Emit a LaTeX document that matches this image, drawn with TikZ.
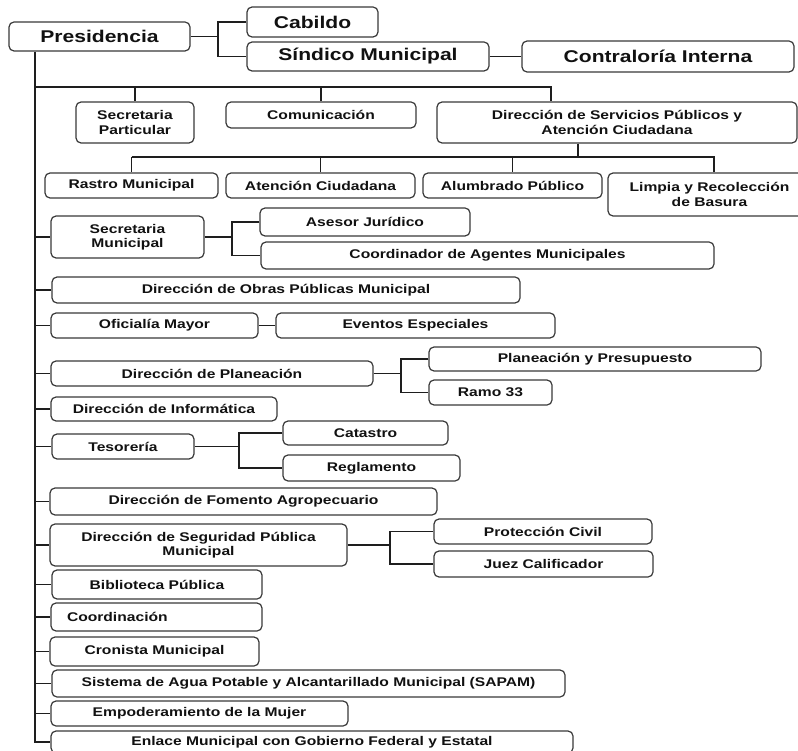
\documentclass[tikz,border=0pt]{standalone}
\usepackage{fontspec}
\setmainfont{Liberation Sans}[FakeStretch=1.24]
\definecolor{boxc}{HTML}{3A3A3A}
\definecolor{linec}{HTML}{1E1E1E}
\definecolor{txtc}{HTML}{111111}
\begin{document}
\begin{tikzpicture}[x=1pt,y=-1pt,
  box/.style={draw=boxc, line width=1.2pt, rounded corners=5pt, inner sep=0pt, align=center,
    font=\bfseries\fontsize{12.6}{14.5}\selectfont, text=txtc},
  big/.style={font=\bfseries\fontsize{17}{20}\selectfont},
  ln/.style={draw=linec, line width=1.3pt}]
\fill[white] (0,0) rectangle (798,751);
\useasboundingbox (0,0) rectangle (798,751);

% top level
\node[box,big,minimum width=181pt,minimum height=29pt] (pres) at (99.5,36.5) {Presidencia};
\node[box,big,minimum width=131pt,minimum height=30pt] (cab) at (312.5,22) {Cabildo};
\node[box,big,minimum width=242pt,minimum height=29pt] (sind) at (368,56.5) {Síndico Municipal};
\node[box,big,minimum width=272pt,minimum height=31pt] (contr) at (658,56.5) {Contraloría Interna};

% second row
\node[box,minimum width=118pt,minimum height=41pt] (secpart) at (135,122.5) {Secretaria\\Particular};
\node[box,minimum width=190pt,minimum height=26pt] (comun) at (321,115) {Comunicación};
\node[box,minimum width=360pt,minimum height=41pt] (dserv) at (617,122.5) {Dirección de Servicios Públicos y\\Atención Ciudadana};

% services children
\node[box,minimum width=173pt,minimum height=25pt] (rastro) at (131.5,185.5) {Rastro Municipal};
\node[box,minimum width=189pt,minimum height=25pt] (atenc) at (320.5,185.5) {Atención Ciudadana};
\node[box,minimum width=179pt,minimum height=25pt] (alumb) at (512.5,185.5) {Alumbrado Público};
\node[box,minimum width=203pt,minimum height=43pt] (limpia) at (709.5,194.5) {Limpia y Recolección\\de Basura};

% list
\node[box,minimum width=153pt,minimum height=42pt] (secmun) at (127.5,237) {Secretaria\\Municipal};
\node[box,minimum width=210pt,minimum height=28pt] (asesor) at (365,222) {Asesor Jurídico};
\node[box,minimum width=453pt,minimum height=27pt] (coord) at (487.5,255.5) {Coordinador de Agentes Municipales};
\node[box,minimum width=468pt,minimum height=26pt] (obras) at (286,290) {Dirección de Obras Públicas Municipal};
\node[box,minimum width=207pt,minimum height=25pt] (ofic) at (154.5,325.5) {Oficialía Mayor};
\node[box,minimum width=279pt,minimum height=25pt] (event) at (415.5,325.5) {Eventos Especiales};
\node[box,minimum width=322pt,minimum height=25pt] (dplan) at (212,373.5) {Dirección de Planeación};
\node[box,minimum width=332pt,minimum height=24pt] (planpres) at (595,359) {Planeación y Presupuesto};
\node[box,minimum width=123pt,minimum height=25pt] (ramo) at (490.5,392.5) {Ramo 33};
\node[box,minimum width=226pt,minimum height=24pt] (dinf) at (164,409) {Dirección de Informática};
\node[box,minimum width=142pt,minimum height=25pt] (teso) at (123,446.5) {Tesorería};
\node[box,minimum width=165pt,minimum height=24pt] (catas) at (365.5,433) {Catastro};
\node[box,minimum width=177pt,minimum height=26pt] (regl) at (371.5,468) {Reglamento};
\node[box,minimum width=387pt,minimum height=27pt] (fomen) at (243.5,501.5) {Dirección de Fomento Agropecuario};
\node[box,minimum width=297pt,minimum height=42pt] (segur) at (198.5,545) {Dirección de Seguridad Pública\\Municipal};
\node[box,minimum width=218pt,minimum height=25pt] (prot) at (543,531.5) {Protección Civil};
\node[box,minimum width=219pt,minimum height=26pt] (juez) at (543.5,564) {Juez Calificador};
\node[box,minimum width=210pt,minimum height=29pt] (bibl) at (157,584.5) {Biblioteca Pública};
\node[box,minimum width=211pt,minimum height=28pt] (coordn) at (156.5,617) {\makebox[179pt][l]{Coordinación}};
\node[box,minimum width=209pt,minimum height=29pt] (cron) at (154.5,651.5) {Cronista Municipal};
\node[box,minimum width=513pt,minimum height=27pt] (agua) at (308.5,683.5) {Sistema de Agua Potable y Alcantarillado Municipal (SAPAM)};
\node[box,minimum width=297pt,minimum height=25pt] (empod) at (199.5,713.5) {Empoderamiento de la Mujer};
\node[box,minimum width=522pt,minimum height=22pt] (enlace) at (312,742) {Enlace Municipal con Gobierno Federal y Estatal};

% junction coordinates
\coordinate (tx) at (35,0);
\coordinate (j1) at (218,36.5);
\coordinate (hb) at (0,87);
\coordinate (d1) at (551,87);
\coordinate (d2) at (578,157);
\coordinate (d3) at (714,157);
\coordinate (j2) at (232,237);
\coordinate (j3) at (401,373.5);
\coordinate (j4) at (239,446.5);
\coordinate (j5) at (390,545);

% top connectors
\draw[ln] (pres.east) -- (j1);
\draw[ln] (cab.west) -- (cab.west -| j1) -- (sind.west -| j1) -- (sind.west);
\draw[ln] (sind.east) -- (contr.west);

% trunk
\draw[ln] (pres.south -| tx) -- (enlace.west -| tx) -- (enlace.west);

% second row bar
\draw[ln] (tx |- hb) -- (d1) -- (d1 |- dserv.north);
\draw[ln] (secpart.north |- hb) -- (secpart.north);
\draw[ln] (comun.north |- hb) -- (comun.north);

% services bar
\draw[ln] (d2 |- dserv.south) -- (d2);
\draw[ln] (rastro.north |- d2) -- (d3) -- (d3 |- limpia.north);
\draw[ln] (rastro.north |- d2) -- (rastro.north);
\draw[ln] (atenc.north |- d2) -- (atenc.north);
\draw[ln] (alumb.north |- d2) -- (alumb.north);

% trunk branches
\foreach \n in {secmun,obras,ofic,dplan,dinf,teso,fomen,segur,bibl,coordn,cron,agua,empod}
  \draw[ln] (tx |- \n.west) -- (\n.west);

% sub-branches
\draw[ln] (secmun.east) -- (j2);
\draw[ln] (asesor.west) -- (asesor.west -| j2) -- (coord.west -| j2) -- (coord.west);
\draw[ln] (ofic.east) -- (event.west);
\draw[ln] (dplan.east) -- (j3);
\draw[ln] (planpres.west) -- (planpres.west -| j3) -- (ramo.west -| j3) -- (ramo.west);
\draw[ln] (teso.east) -- (j4);
\draw[ln] (catas.west) -- (catas.west -| j4) -- (regl.west -| j4) -- (regl.west);
\draw[ln] (segur.east) -- (j5);
\draw[ln] (prot.west) -- (prot.west -| j5) -- (juez.west -| j5) -- (juez.west);
\end{tikzpicture}
\end{document}
